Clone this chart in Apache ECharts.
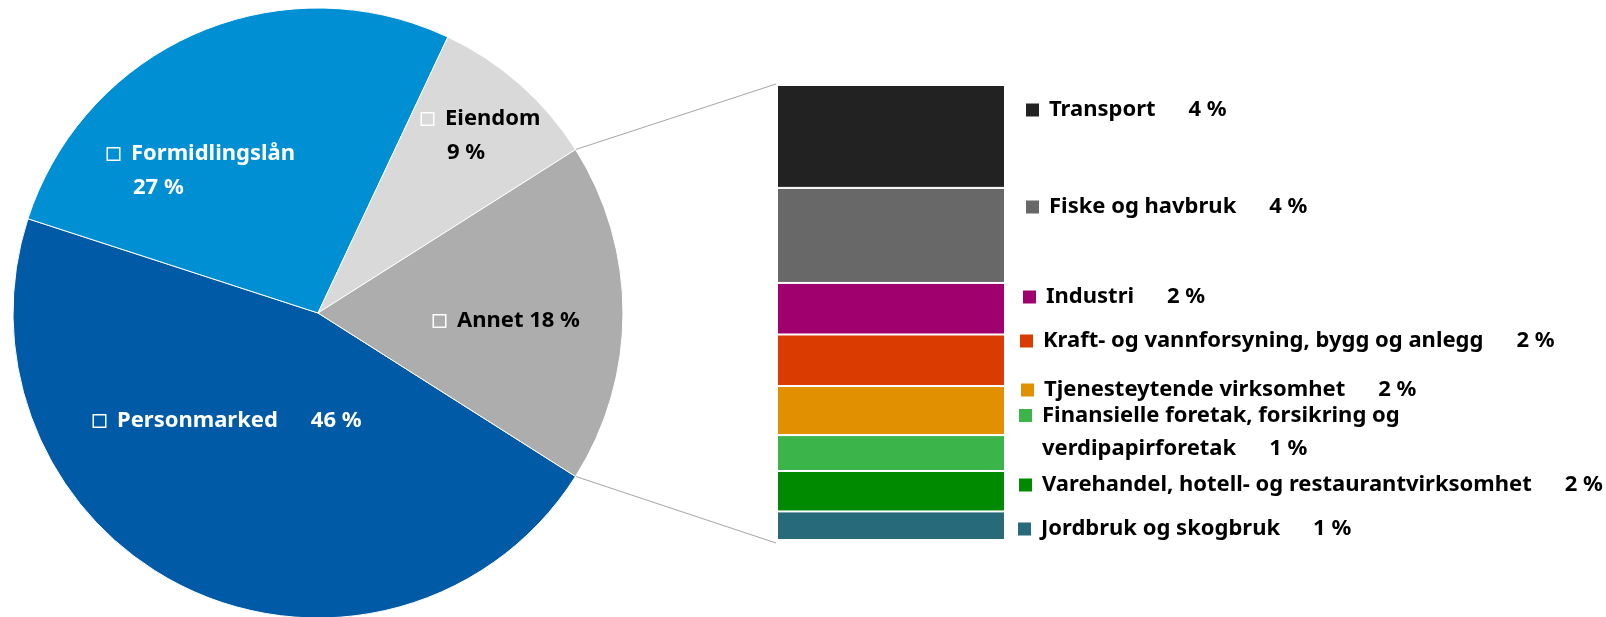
<!DOCTYPE html>
<html>
<head>
<meta charset="utf-8">
<title>Utlån fordelt på sektor</title>
<script src="https://cdn.jsdelivr.net/npm/echarts@6/dist/echarts.min.js"></script>
<style>
	html, body { margin: 0; padding: 0; background: #fff; }
	#main { width: 1606px; height: 617px; }
</style>
</head>
<body>
<div id="main"></div>
<script>
	// hovedsektorer (kakediagram), prosent
	var pieNames = ['Personmarked', 'Formidlingslån', 'Eiendom', 'Annet'];
	var pieValues = [46, 27, 9, 18];
	// Annet fordelt, fra toppen av stolpen
	var annetNames = ['Transport', 'Fiske og havbruk', 'Industri', 'Kraft- og vannforsyning, bygg og anlegg',
		'Tjenesteytende virksomhet', 'Finansielle foretak, forsikring og\nverdipapirforetak',
		'Varehandel, hotell- og restaurantvirksomhet', 'Jordbruk og skogbruk'];
	var annetValues = [4.07, 3.76, 2.04, 2.04, 1.94, 1.42, 1.6, 1.13];

	// farger og plassering
	var pieColors = ['#005aa5', '#008fd3', '#d9d9d9', '#adadad'];
	var pieTextColors = ['#fff', '#fff', '#000', '#000'];
	var pieLabelMode = ['gap', 'line', 'line', 'space'];
	var pieLabelPos = [[94, 421], [108, 171], [422, 136], [434, 321]];
	var annetColors = ['#222222', '#686868', '#a0006e', '#d93b00', '#e09000', '#3bb44a', '#008a00', '#276a7a'];
	var legendPos = [[1026, 110], [1026, 207], [1023, 297], [1020, 341], [1021, 390], [1019, 432], [1019, 485], [1018, 529]];
	var pieCenter = [318, 313], pieRadius = 305, pieStart = 327.6;
	var barLeft = 777, barTop = 85, barWidth = 228, barHeight = 455;
	var font = 'Noto Sans', fontSize = 22;

	function pct(v) {
		return Math.round(v) + ' %';
	}

	var chart = echarts.init(document.getElementById('main'));

	// kakeetiketter
	var pieRich = {
		t: { fontFamily: font, fontSize: fontSize, fontWeight: 'bold', align: 'left', lineHeight: 34 },
		g: { width: 12, align: 'left' },
		ind: { width: 25, align: 'left' },
		p: { fontFamily: font, fontSize: fontSize, fontWeight: 'bold', align: 'left', padding: [0, 0, 0, 33] }
	};
	var pieData = [];
	for (var i = 0; i < pieNames.length; i++) {
		pieRich['sq' + i] = { width: 11, height: 11, backgroundColor: pieColors[i], borderColor: '#fff', borderWidth: 1.5, align: 'left' };
		pieData.push({
			name: pieNames[i],
			value: pieValues[i],
			itemStyle: { color: pieColors[i] },
			label: { color: pieTextColors[i] }
		});
	}

	var series = [{
		type: 'pie',
		center: pieCenter,
		radius: pieRadius,
		startAngle: pieStart,
		clockwise: true,
		silent: true,
		data: pieData,
		itemStyle: { borderColor: '#fff', borderWidth: 1 },
		label: {
			show: true,
			position: 'inside',
			rich: pieRich,
			formatter: function (p) {
				var i = p.dataIndex, head = '{sq' + i + '|}{g|}{t|' + p.name + '}';
				if (pieLabelMode[i] == 'gap') return head + '{p|' + p.value + ' %}';
				if (pieLabelMode[i] == 'line') return head + '\n{ind|}{t|' + p.value + ' %}';
				return '{sq' + i + '|}{g|}{t|' + p.name + ' ' + p.value + ' %}';
			}
		},
		labelLine: { show: false },
		labelLayout: function (p) {
			var pos = pieLabelPos[p.dataIndex];
			return { x: pos[0], y: pos[1], align: 'left', verticalAlign: 'middle' };
		}
	}];

	// stablet stolpe for Annet
	annetNames.forEach(function (name, i) {
		var rich = {
			sq: { width: 13, height: 13, backgroundColor: annetColors[i], align: 'left' },
			g: { width: 10, align: 'left' },
			ind: { width: 23, align: 'left' },
			t: { fontFamily: font, fontSize: fontSize, fontWeight: 'bold', color: '#000', align: 'left', lineHeight: 33 },
			p: { fontFamily: font, fontSize: fontSize, fontWeight: 'bold', color: '#000', align: 'left', lineHeight: 33, padding: [0, 0, 0, 33] }
		};
		series.push({
			type: 'bar',
			name: name,
			stack: 'annet',
			barWidth: '100%',
			silent: true,
			data: [annetValues[i]],
			itemStyle: { color: annetColors[i], borderColor: '#fff', borderWidth: 1 },
			label: {
				show: true,
				position: 'right',
				rich: rich,
				formatter: function (p) {
					var lines = name.split('\n');
					var s = '{sq|}{g|}{t|' + lines[0] + '}';
					if (lines.length > 1) s += '\n{ind|}{t|' + lines[1] + '}';
					return s + '{p|' + pct(p.value) + '}';
				}
			},
			labelLayout: function () {
				return { x: legendPos[i][0], y: legendPos[i][1], align: 'left', verticalAlign: 'middle' };
			}
		});
	});

	var annetSum = annetValues.reduce(function (a, b) { return a + b; }, 0);

	chart.setOption({
		backgroundColor: '#fff',
		animation: false,
		grid: { left: barLeft, top: barTop, width: barWidth, height: barHeight },
		xAxis: { type: 'category', data: ['Annet'], show: false },
		yAxis: { type: 'value', inverse: true, min: 0, max: annetSum, show: false },
		series: series
	});

	// forbindelseslinjer fra Annet-sektoren til stolpen
	var before = 0;
	for (var k = 0; k < 3; k++) before += pieValues[k];
	var total = pieValues.reduce(function (a, b) { return a + b; }, 0);
	var a1 = (pieStart - before / total * 360) * Math.PI / 180;
	var a2 = (pieStart - (before + pieValues[3]) / total * 360) * Math.PI / 180;
	var p1 = [pieCenter[0] + pieRadius * Math.cos(a1), pieCenter[1] - pieRadius * Math.sin(a1)];
	var p2 = [pieCenter[0] + pieRadius * Math.cos(a2), pieCenter[1] - pieRadius * Math.sin(a2)];
	var topLeft = chart.convertToPixel({ gridIndex: 0 }, ['Annet', 0]);
	var botLeft = chart.convertToPixel({ gridIndex: 0 }, ['Annet', annetSum]);
	chart.setOption({
		graphic: [
			{ type: 'line', silent: true, shape: { x1: p1[0], y1: p1[1], x2: barLeft - 1, y2: topLeft[1] - 1 }, style: { stroke: '#a6a6a6', lineWidth: 1 } },
			{ type: 'line', silent: true, shape: { x1: p2[0], y1: p2[1], x2: barLeft - 1, y2: botLeft[1] + 3 }, style: { stroke: '#a6a6a6', lineWidth: 1 } }
		]
	});
</script>
</body>
</html>
